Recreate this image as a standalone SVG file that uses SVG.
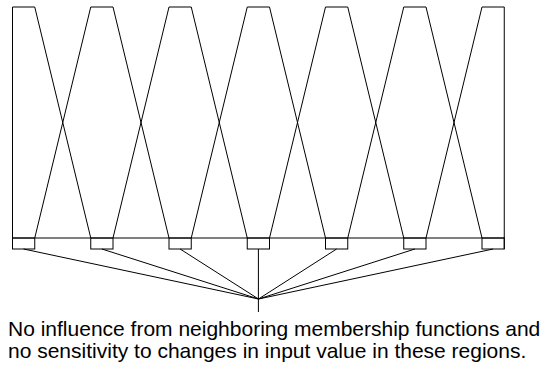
<svg xmlns="http://www.w3.org/2000/svg" width="544" height="366" viewBox="0 0 544 366">
<style>
.s{fill:none;stroke:#000;stroke-width:1;stroke-linejoin:miter}
.t{font-family:"Liberation Sans",Arial,sans-serif;font-size:21px;fill:#000}
</style>
<rect width="544" height="366" fill="#fff"/>
<g id="axis"><line class="s" x1="12.5" y1="238" x2="504.5" y2="238"/></g>
<g id="mf1"><polyline class="s" points="12.5,249 12.5,7 34.75,7 90.75,238"/><rect class="s" x="12.5" y="238" width="22.25" height="11"/></g>
<g id="mf2"><polyline class="s" points="34.75,238 90.75,7 113,7 169,238"/><rect class="s" x="90.75" y="238" width="22.25" height="11"/></g>
<g id="mf3"><polyline class="s" points="113,238 169,7 191.25,7 247.25,238"/><rect class="s" x="169" y="238" width="22.25" height="11"/></g>
<g id="mf4"><polyline class="s" points="191.25,238 247.25,7 269.5,7 325.5,238"/><rect class="s" x="247.25" y="238" width="22.25" height="11"/></g>
<g id="mf5"><polyline class="s" points="269.5,238 325.5,7 347.75,7 403.75,238"/><rect class="s" x="325.5" y="238" width="22.25" height="11"/></g>
<g id="mf6"><polyline class="s" points="347.75,238 403.75,7 426,7 482,238"/><rect class="s" x="403.75" y="238" width="22.25" height="11"/></g>
<g id="mf7"><polyline class="s" points="426,238 482,7 504.25,7 504.25,249"/><rect class="s" x="482" y="238" width="22.25" height="11"/></g>
<g id="connectors">
<line class="s" x1="23.6" y1="249" x2="258.5" y2="299"/>
<line class="s" x1="101.9" y1="249" x2="258.5" y2="299"/>
<line class="s" x1="180.1" y1="249" x2="258.5" y2="299"/>
<line class="s" x1="258.4" y1="249" x2="258.4" y2="312"/>
<line class="s" x1="336.6" y1="249" x2="258.5" y2="299"/>
<line class="s" x1="414.9" y1="249" x2="258.5" y2="299"/>
<line class="s" x1="493.1" y1="249" x2="258.5" y2="299"/>
</g>
<g id="label">
<text class="t" x="8" y="335.5">No influence from neighboring membership functions and</text>
<text class="t" x="8" y="358">no sensitivity to changes in input value in these regions.</text>
</g>
</svg>
